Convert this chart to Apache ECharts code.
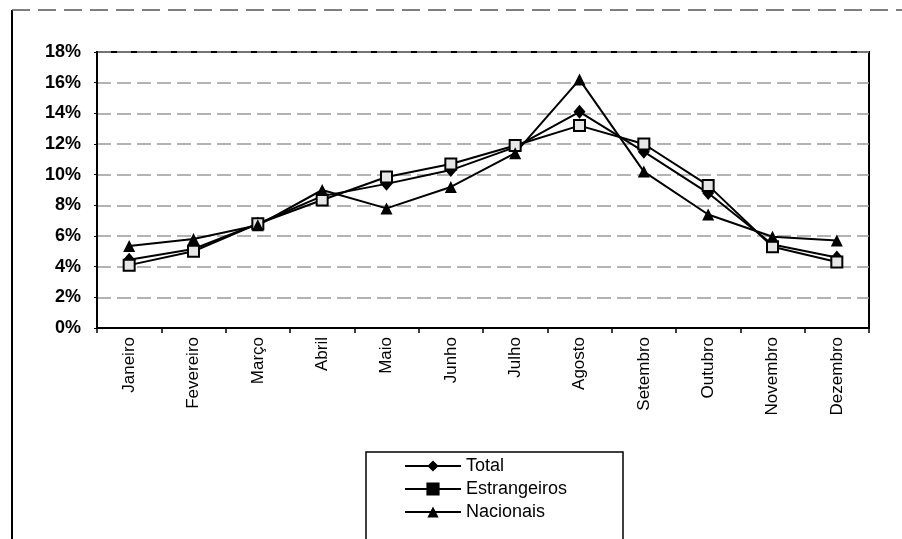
<!DOCTYPE html>
<html>
<head>
<meta charset="utf-8">
<script src="https://cdn.jsdelivr.net/npm/echarts@6/dist/echarts.min.js"></script>
<style>
  html, body { margin: 0; padding: 0; background: #fff; }
  #chart { width: 902px; height: 539px; }
</style>
</head>
<body>
<div id="chart"></div>
<script>
// Monthly share (%) of guests over the year
const months = ['Janeiro', 'Fevereiro', 'Março', 'Abril', 'Maio', 'Junho',
                'Julho', 'Agosto', 'Setembro', 'Outubro', 'Novembro', 'Dezembro'];
const total        = [4.45, 5.15, 6.8, 8.6, 9.4, 10.3, 11.8, 14.1, 11.5, 8.8, 5.45, 4.6];
const estrangeiros = [4.1, 5.0, 6.8, 8.35, 9.85, 10.7, 11.9, 13.2, 12.0, 9.3, 5.3, 4.3];
const nacionais    = [5.35, 5.8, 6.7, 9.0, 7.8, 9.2, 11.4, 16.2, 10.2, 7.4, 5.95, 5.7];
const yTicks = { min: 0, max: 18, step: 2 };

const font = 'Liberation Sans, Arial, sans-serif';

const chart = echarts.init(document.getElementById('chart'), null, { renderer: 'canvas' });

const lineStyle = { color: '#000', width: 2 };

chart.setOption({
  animation: false,
  backgroundColor: '#fff',
  textStyle: { fontFamily: font, color: '#000' },
  grid: {
    left: 97, top: 52, right: 33, bottom: 211,
    show: true, borderColor: '#000', borderWidth: 2, backgroundColor: 'transparent'
  },
  xAxis: {
    type: 'category',
    data: months,
    boundaryGap: true,
    axisLine: { lineStyle: { color: '#000', width: 2 } },
    axisTick: { show: true, length: 5, lineStyle: { color: '#000', width: 1.5 } },
    axisLabel: { rotate: 90, fontSize: 17, color: '#000', margin: 9, fontFamily: font }
  },
  yAxis: {
    type: 'value',
    min: yTicks.min, max: yTicks.max, interval: yTicks.step,
    axisLine: { show: true, lineStyle: { color: '#000', width: 2 } },
    axisTick: { show: true, length: 3, lineStyle: { color: '#000' } },
    axisLabel: {
      formatter: '{value}%', fontSize: 18, fontWeight: 'bold', color: '#000',
      margin: 16, fontFamily: font, padding: [0, 0, 8, 0]
    },
    splitLine: { show: true, lineStyle: { color: '#9a9a9a', width: 1.5, type: [14, 6] } }
  },
  legend: {
    orient: 'vertical',
    left: 404, top: 457,
    padding: 0,
    itemWidth: 56, itemHeight: 14, itemGap: 5,
    lineStyle: { width: 2 },
    textStyle: { fontSize: 18, color: '#000', fontFamily: font },
    data: [
      { name: 'Total' },
      { name: 'Estrangeiros', itemStyle: { color: '#000', borderColor: '#000' } },
      { name: 'Nacionais' }
    ]
  },
  graphic: [
    // outer chart frame
    { type: 'line', shape: { x1: 12, y1: 10, x2: 12, y2: 539 },
      style: { stroke: '#000', lineWidth: 2 } },
    { type: 'line', shape: { x1: 12, y1: 10, x2: 902, y2: 10 },
      style: { stroke: '#555', lineWidth: 1.5, lineDash: [18, 8] } },
    // legend box
    { type: 'rect', shape: { x: 366, y: 452, width: 257, height: 110 },
      style: { fill: 'transparent', stroke: '#000', lineWidth: 1.5 }, z: 1 }
  ],
  series: [
    {
      name: 'Total', type: 'line', data: total,
      symbol: 'diamond', symbolSize: [12, 14],
      itemStyle: { color: '#000' }, lineStyle
    },
    {
      name: 'Estrangeiros', type: 'line', data: estrangeiros,
      symbol: 'rect', symbolSize: 11,
      itemStyle: { color: '#e6e6e6', borderColor: '#000', borderWidth: 2 }, lineStyle
    },
    {
      name: 'Nacionais', type: 'line', data: nacionais,
      symbol: 'triangle', symbolSize: 12,
      itemStyle: { color: '#000' }, lineStyle
    }
  ]
});
</script>
</body>
</html>
